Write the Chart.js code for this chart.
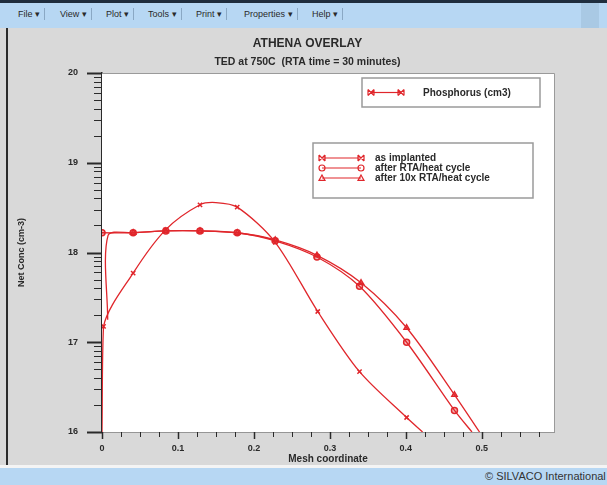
<!DOCTYPE html>
<html>
<head>
<meta charset="utf-8">
<script src="https://cdn.jsdelivr.net/npm/chart.js@4"></script>
<style>
  body { margin: 0; width: 607px; height: 485px; overflow: hidden; background: #d9d9d9; position: relative;
         font-family: "Liberation Sans", Arial, sans-serif; }
  #menubar { position: absolute; left: 0; top: 0; width: 607px; height: 28px; background: #b7d7f3;
             border-top: 3px solid #1f2d3d; box-sizing: border-box; }
  #menubar .menu { position: absolute; top: 5px; font-size: 9px; color: #2a2a2a; padding: 1px 4px;
                   border-right: 1px solid #8aa8c4; }
  #menubar .corner { position: absolute; right: 8px; top: 0; width: 18px; height: 25px; background: #a9c9e4; }
  #leftedge { position: absolute; left: 6px; top: 28px; width: 2px; height: 437px; background: #2b2b2b; }
  #status { position: absolute; left: 0; top: 465px; width: 607px; height: 20px; background: #b7d7f3;
            border-top: 3px solid #f4f4f4; box-sizing: border-box; overflow: hidden; }
  #status span { position: absolute; left: 485px; top: 2px; font-size: 11px; color: #333; white-space: nowrap; }
  #wrap { position: absolute; left: 8px; top: 28px; width: 599px; height: 437px; }
</style>
</head>
<body>
<div id="menubar">
  <span class="menu" style="left:14px">File ▾</span>
  <span class="menu" style="left:56px">View ▾</span>
  <span class="menu" style="left:102px">Plot ▾</span>
  <span class="menu" style="left:144px">Tools ▾</span>
  <span class="menu" style="left:192px">Print ▾</span>
  <span class="menu" style="left:240px">Properties ▾</span>
  <span class="menu" style="left:308px">Help ▾</span>
  <div class="corner"></div>
</div>
<div id="leftedge"></div>
<div id="wrap"><canvas id="chart" width="599" height="437"></canvas></div>
<div id="status"><span>© SILVACO International</span></div>

<script>
// depth (mesh coordinate) and phosphorus concentration
const implantX   = [0, 0.002, 0.041, 0.084, 0.129, 0.150, 0.178, 0.228, 0.284, 0.339, 0.401, 0.422];
const implantY   = [1.0e16, 1.5e17, 5.9e17, 1.8e18, 3.4e18, 3.6e18, 3.2e18, 1.3e18, 2.2e17, 4.7e16, 1.45e16, 1.0e16];
const implantPts = [0, 3, 3, 3, 3, 0, 3, 3, 3, 3, 3, 0];

const rtaX   = [0, 0.041, 0.084, 0.129, 0.178, 0.228, 0.283, 0.339, 0.401, 0.464, 0.487];
const rtaY   = [1.66e18, 1.66e18, 1.74e18, 1.74e18, 1.66e18, 1.35e18, 8.9e17, 4.2e17, 1.0e17, 1.74e16, 1.0e16];
const rtaPts = [3, 3, 3, 3, 3, 3, 3, 3, 3, 3, 0];

const rta10X   = [0.0075, 0.008, 0.041, 0.084, 0.129, 0.178, 0.228, 0.283, 0.341, 0.401, 0.464, 0.497];
const rta10Y   = [1.78e17, 1.55e18, 1.66e18, 1.74e18, 1.74e18, 1.66e18, 1.38e18, 9.3e17, 4.6e17, 1.45e17, 2.6e16, 1.0e16];
const rta10Pts = [0, 0, 3, 3, 3, 3, 3, 3, 3, 3, 3, 0];

const seriesLabels = ['as implanted', 'after RTA/heat cycle', 'after 10x RTA/heat cycle'];
const seriesMarkers = ['crossRot', 'circle', 'triangle'];
const quantityLabel = 'Phosphorus (cm3)';

const xTicks = [];
for (let i = 0; i <= 23; i++) xTicks.push(+(i * 0.025).toFixed(3));
const yTicks = [];
for (let e = 16; e < 20; e++) for (let m = 1; m <= 9; m++) yTicks.push(m * Math.pow(10, e));
yTicks.push(1e20);

const RED = '#e0262b';
const INK = '#2a2a2a';
const FONT = '"Liberation Sans", Arial, sans-serif';

function toPoints(xs, ys) { return xs.map((x, i) => ({ x: x, y: ys[i] })); }

function marker(ctx, style, x, y, r) {
  ctx.beginPath();
  if (style === 'crossRot') {
    ctx.moveTo(x - r, y - r); ctx.lineTo(x + r, y + r);
    ctx.moveTo(x + r, y - r); ctx.lineTo(x - r, y + r);
    ctx.moveTo(x - r, y - r); ctx.lineTo(x - r, y + r);
    ctx.moveTo(x + r, y - r); ctx.lineTo(x + r, y + r);
    ctx.stroke();
  } else if (style === 'circle') {
    ctx.arc(x, y, r, 0, Math.PI * 2); ctx.stroke();
  } else {
    ctx.moveTo(x, y - r); ctx.lineTo(x + r, y + r * 0.8); ctx.lineTo(x - r, y + r * 0.8); ctx.closePath(); ctx.stroke();
  }
}

function legendBox(ctx, x, y, w, h) {
  ctx.save();
  ctx.fillStyle = '#ffffff';
  ctx.fillRect(x, y, w, h);
  ctx.strokeStyle = '#9a9a9a';
  ctx.lineWidth = 1.5;
  ctx.strokeRect(x, y, w, h);
  ctx.restore();
}

const frame = {
  id: 'frame',
  beforeDatasetsDraw(chart) {
    const a = chart.chartArea, ctx = chart.ctx;
    ctx.save();
    ctx.fillStyle = '#ffffff';
    ctx.fillRect(a.left, a.top, a.right - a.left, a.bottom - a.top);
    ctx.restore();
  },
  afterDraw(chart) {
    const a = chart.chartArea, ctx = chart.ctx;
    const xs = chart.scales.x, ys = chart.scales.y;
    ctx.save();
    // plot outline on top and right
    ctx.strokeStyle = '#9a9a9a';
    ctx.lineWidth = 1;
    ctx.beginPath();
    ctx.moveTo(a.left, a.top + 0.5); ctx.lineTo(a.right + 0.5, a.top + 0.5); ctx.lineTo(a.right + 0.5, a.bottom);
    ctx.stroke();
    // tick marks
    ctx.strokeStyle = INK;
    ys.ticks.forEach(t => {
      const major = Math.abs(Math.log10(t.value) - Math.round(Math.log10(t.value))) < 1e-9;
      const py = Math.round(ys.getPixelForValue(t.value)) + 0.5;
      ctx.lineWidth = major ? 2 : 1;
      ctx.beginPath();
      ctx.moveTo(a.left - (major ? 15 : 8), py); ctx.lineTo(a.left, py);
      ctx.stroke();
    });
    xs.ticks.forEach(t => {
      const major = Math.abs(t.value * 10 - Math.round(t.value * 10)) < 1e-9;
      const px = Math.round(xs.getPixelForValue(t.value)) + 0.5;
      ctx.lineWidth = major ? 1.5 : 1;
      ctx.beginPath();
      ctx.moveTo(px, a.bottom); ctx.lineTo(px, a.bottom + (major ? 7 : 5));
      ctx.stroke();
    });
    // legends
    ctx.font = 'bold 10px ' + FONT;
    ctx.textBaseline = 'middle';
    ctx.lineWidth = 1.2;
    legendBox(ctx, 354, 50, 178, 29);
    ctx.strokeStyle = RED;
    ctx.beginPath(); ctx.moveTo(363, 64.5); ctx.lineTo(393, 64.5); ctx.stroke();
    marker(ctx, 'crossRot', 363, 64.5, 3);
    marker(ctx, 'crossRot', 393, 64.5, 3);
    ctx.fillStyle = INK;
    ctx.fillText(quantityLabel, 415, 65);

    legendBox(ctx, 305, 115, 220, 55);
    seriesLabels.forEach((lbl, i) => {
      const y = 130 + i * 10;
      ctx.strokeStyle = RED;
      ctx.lineWidth = 1.2;
      ctx.beginPath(); ctx.moveTo(314, y); ctx.lineTo(353, y); ctx.stroke();
      marker(ctx, seriesMarkers[i], 314, y, 3);
      marker(ctx, seriesMarkers[i], 353, y, 3);
      ctx.fillStyle = INK;
      ctx.fillText(lbl, 367, y + 0.5);
    });
    ctx.restore();
  }
};

function dataset(label, xs, ys, radii, style) {
  return {
    label: label,
    data: toPoints(xs, ys),
    borderColor: RED,
    backgroundColor: 'rgba(224,38,43,0.35)',
    borderWidth: 1.3,
    pointStyle: style,
    pointRadius: radii,
    pointBorderWidth: 1.5,
    pointBorderColor: RED,
    tension: 0.3,
    fill: false
  };
}

new Chart(document.getElementById('chart'), {
  type: 'line',
  data: {
    datasets: [
      dataset(seriesLabels[0], implantX, implantY, implantPts, 'crossRot'),
      dataset(seriesLabels[1], rtaX, rtaY, rtaPts, 'circle'),
      dataset(seriesLabels[2], rta10X, rta10Y, rta10Pts, 'triangle')
    ]
  },
  options: {
    responsive: false,
    animation: false,
    layout: { padding: 0 },
    plugins: {
      legend: { display: false },
      tooltip: { enabled: false },
      title: {
        display: true,
        text: 'ATHENA OVERLAY',
        color: INK,
        font: { family: FONT, size: 12, weight: 'bold', lineHeight: 1.2 },
        padding: { top: 8, bottom: 0 }
      },
      subtitle: {
        display: true,
        text: 'TED at 750C  (RTA time = 30 minutes)',
        color: INK,
        font: { family: FONT, size: 10.5, weight: 'bold', lineHeight: 1.2 },
        padding: { top: 5, bottom: 5 }
      }
    },
    scales: {
      x: {
        type: 'linear',
        min: 0,
        max: 0.595,
        afterBuildTicks: s => { s.ticks = xTicks.map(v => ({ value: v })); },
        afterFit: s => { s.height = 33; },
        grid: { drawOnChartArea: false, drawTicks: true, tickLength: 7, tickColor: 'transparent' },
        border: { display: true, color: '#555555', width: 1.5 },
        ticks: {
          autoSkip: false,
          maxRotation: 0,
          padding: 4,
          color: INK,
          font: { family: FONT, size: 9, weight: 'bold' },
          callback: v => (Math.abs(v * 10 - Math.round(v * 10)) < 1e-9 ? String(Math.round(v * 10) / 10) : '')
        },
        title: {
          display: true,
          text: 'Mesh coordinate',
          color: INK,
          font: { family: FONT, size: 10, weight: 'bold' },
          padding: { top: -1, bottom: 0 }
        }
      },
      y: {
        type: 'logarithmic',
        min: 1e16,
        max: 1e20,
        afterBuildTicks: s => { s.ticks = yTicks.map(v => ({ value: v })); },
        afterFit: s => { s.width = 94; },
        grid: { drawOnChartArea: false, drawTicks: true, tickLength: 15, tickColor: 'transparent' },
        border: { display: true, color: INK, width: 1.5 },
        ticks: {
          autoSkip: false,
          padding: 9,
          color: INK,
          font: { family: FONT, size: 9, weight: 'bold' },
          callback: v => {
            const e = Math.log10(v);
            return Math.abs(e - Math.round(e)) < 1e-9 ? String(Math.round(e)) : '';
          }
        },
        title: {
          display: true,
          text: 'Net Conc (cm-3)',
          color: INK,
          font: { family: FONT, size: 9, weight: 'bold' },
          padding: { top: 8, bottom: 0 }
        }
      },
      // empty margin on the right of the plot, like the original window
      yRight: {
        type: 'linear',
        position: 'right',
        afterFit: s => { s.width = 53; },
        grid: { display: false, drawTicks: false },
        border: { display: false },
        ticks: { display: false }
      }
    }
  },
  plugins: [frame]
});
</script>
</body>
</html>
